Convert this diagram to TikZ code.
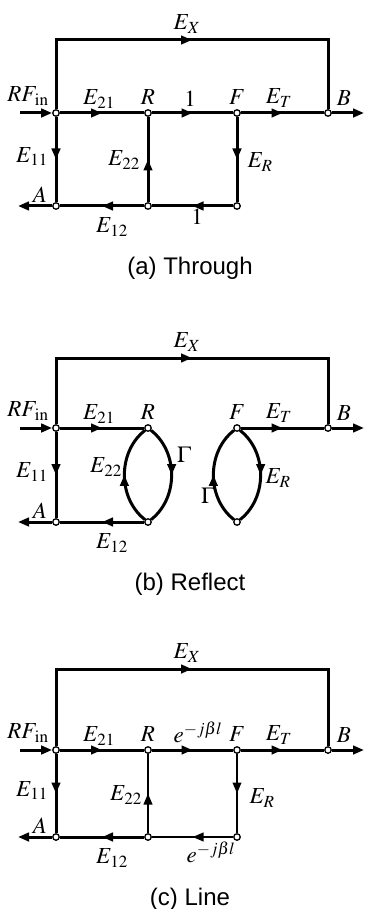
\documentclass[tikz,border=0pt]{standalone}
\usepackage{mathptmx}
\usepackage{fontspec}
\setmainfont{Liberation Serif}
\setsansfont{Liberation Sans}
\usetikzlibrary{arrows.meta,decorations.markings}

\tikzset{
  sig/.style={line width=3pt},
  sigthin/.style={line width=2.2pt},
  midarrow/.style={postaction={decorate},decoration={markings,mark=at position 0.5 with {\arrow{Triangle[length=11pt,width=8.5pt]}}}},
  endarrow/.style={-{Triangle[length=11pt,width=8.5pt]}},
  port/.style={circle,draw,fill=white,line width=1.3pt,inner sep=0pt,minimum size=6.5pt},
  lbl/.style={font=\fontsize{23}{27}\selectfont,inner sep=0pt},
  caption/.style={font=\sffamily\fontsize{24}{28}\selectfont,inner sep=0pt},
}

\begin{document}
\begin{tikzpicture}[x=1pt,y=-1pt]
\useasboundingbox (0,0) rectangle (365,909);

% parts shared by the three graphs (top, main and bottom line heights)
\foreach \yt/\ym/\yb/\pn/\ttl in {40/113/206/a/Through, 358/428/522/b/Reflect, 669/750/837/c/Line}{
  % ports
  \node[port] (L\pn) at (56,\ym) {};
  \node[port] (R\pn) at (148,\ym) {};
  \node[port] (F\pn) at (237,\ym) {};
  \node[port] (B\pn) at (328,\ym) {};
  \node[port] (A\pn) at (56,\yb) {};
  \node[port] (R2\pn) at (148,\yb) {};
  \node[port] (F2\pn) at (237,\yb) {};
  \coordinate (in\pn) at (20,\ym);
  \coordinate (out\pn) at (364,\ym);
  \coordinate (Aout\pn) at (18,\yb);
  \coordinate (tl\pn) at (56,\yt);
  \coordinate (tr\pn) at (328,\yt);

  % branches
  \draw[sig,midarrow] (L\pn) -- (tl\pn) -- (tr\pn) -- (B\pn);
  \draw[sig,endarrow] (in\pn) -- (L\pn);
  \draw[sig,midarrow] (L\pn) -- (R\pn);
  \draw[sig,midarrow] (F\pn) -- (B\pn);
  \draw[sig,endarrow] (B\pn) -- (out\pn);
  \draw[sig,midarrow] (L\pn) -- (A\pn);
  \draw[sig,midarrow] (R2\pn) -- (A\pn);
  \draw[sig,endarrow] (A\pn) -- (Aout\pn);

  % labels
  \node[lbl] at (187,\yt-16) {$E_X$};
  \node[lbl] at (28,\ym-17) {$RF_{\,\mathrm{in}}$};
  \node[lbl] at (99,\ym-14) {$E_{21}$};
  \node[lbl] at (148,\ym-16) {$R$};
  \node[lbl] at (237,\ym-16) {$F$};
  \node[lbl] at (279,\ym-15) {$E_T$};
  \node[lbl] at (344,\ym-15) {$B$};
  \node[lbl] at (32,{(\ym+\yb)/2-3}) {$E_{11}$};
  \node[lbl] at (40,\yb-11) {$A$};
  \node[lbl] at (112,\yb+21) {$E_{12}$};
  \node[caption] at (190,\yb+62) {(\pn) \ttl};
}

% (a) through
\draw[sig,midarrow] (Ra) -- (Fa);
\draw[sig,midarrow] (Fa) -- (F2a);
\draw[sig,midarrow] (R2a) -- (Ra);
\draw[sig,midarrow] (F2a) -- (R2a);
\node[lbl] at (190,99) {$1$};
\node[lbl] at (124,160) {$E_{22}$};
\node[lbl] at (260,162) {$E_R$};
\node[lbl] at (197,217) {$1$};

% (b) reflect
\draw[sig,midarrow] (R2b) to[bend left=52] (Rb);
\draw[sig,midarrow] (Rb) to[bend left=52] (R2b);
\draw[sig,midarrow] (F2b) to[bend left=52] (Fb);
\draw[sig,midarrow] (Fb) to[bend left=52] (F2b);
\node[lbl] at (106,467) {$E_{22}$};
\node[lbl] at (184,455) {$\Gamma$};
\node[lbl] at (278,478) {$E_R$};
\node[lbl] at (208,496) {$\Gamma$};

% (c) line
\draw[sig,midarrow] (Rc) -- (Fc);
\draw[sigthin,midarrow] (Fc) -- (F2c);
\draw[sigthin,midarrow] (R2c) -- (Rc);
\draw[sigthin,midarrow] (F2c) -- (R2c);
\node[lbl] at (198,732) {$e^{-j\beta l}$};
\node[lbl] at (126,795) {$E_{22}$};
\node[lbl] at (262,798) {$E_R$};
\node[lbl] at (211,852) {$e^{-j\beta l}$};
\end{tikzpicture}
\end{document}
